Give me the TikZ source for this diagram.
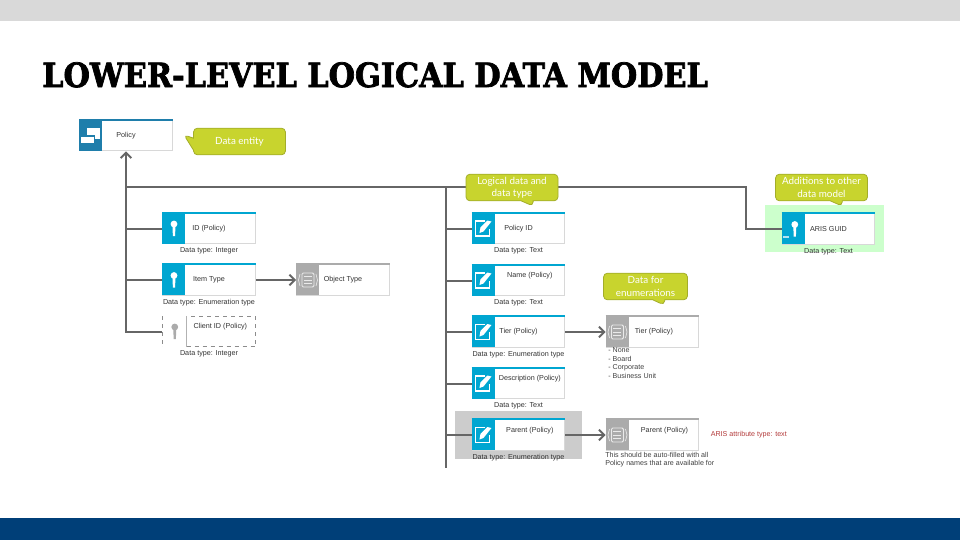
\documentclass[tikz,border=0pt]{standalone}
\usepackage{xcolor}
\usepackage{graphicx}
\usepackage{fontspec}
\setmainfont{Liberation Sans}
\newfontfamily\titlefont[BoldFont={DejaVu Serif Bold},BoldFeatures={FakeBold=2.2}]{DejaVu Serif}
\newfontfamily\calloutfont{Lato}
\definecolor{slidegray}{HTML}{D9D9D9}
\definecolor{slideblue}{HTML}{003F78}
\definecolor{entityblue}{HTML}{1F7EAB}
\definecolor{attrblue}{HTML}{00A6D1}
\definecolor{enumgray}{HTML}{ABABAB}
\definecolor{boxedge}{HTML}{D8D8D8}
\definecolor{linkgray}{HTML}{666666}
\definecolor{calloutgreen}{HTML}{C8D42E}
\definecolor{calloutedge}{HTML}{A3AD2A}
\definecolor{notered}{HTML}{B23A3A}
\usetikzlibrary{positioning,arrows.meta,shapes.callouts}
\tikzset{
  >={Straight Barb[length=4pt,width=8pt]},
  bodybox/.style={draw=boxedge, fill=white, line width=0.7pt, minimum width=69.5pt, minimum height=23pt, inner sep=0pt},
  bandbox/.style={fill=#1, minimum width=17.25pt, minimum height=23pt, inner sep=0pt},
  topline/.style={draw=#1, line width=1.4pt},
  boxtext/.style={font=\fontsize{5.4}{6.5}\selectfont, text=black!80, inner sep=0pt},
  captext/.style={font=\fontsize{5.4}{6.5}\selectfont, text=black!80, inner sep=0pt, below=2.6pt},
  link/.style={draw=linkgray, line width=1.5pt},
  notetext/.style={font=\fontsize{5.35}{6.4}\selectfont, text=black!75, inner sep=0pt, align=left},
  tipnote/.style={rectangle callout, fill=calloutgreen, draw=calloutedge, line width=0.6pt, rounded corners=3pt,
    callout pointer width=9pt, text=white, font=\calloutfont\fontsize{7.4}{9.2}\selectfont, align=center, inner sep=0pt,
    minimum height=20pt},
  keyicon/.pic={
    \fill[#1] (0,-4.5) circle (3.4);
    \fill[#1] (-1.5,-3) -- (1.5,-3) -- (1.1,7.5) -- (-1.1,7.5) -- cycle;
  },
  penicon/.pic={
    \draw[white, line width=0.9pt] (2,-7.5) -- (-8,-7.5) -- (-8,7.5) -- (6,7.5) -- (6,0);
    \fill[white] (-4,4.5) -- (-3,-1) -- (4,-8) -- (8,-7) -- (0,3) -- cycle;
  },
  enumicon/.pic={
    \draw[white!75!enumgray, line width=0.7pt, rounded corners=1pt] (-6,-7) rectangle (6,7);
    \foreach \yy in {-3.5,0,3.5} \draw[white!75!enumgray, line width=0.7pt] (-4,\yy) -- (4,\yy);
    \draw[white!75!enumgray, line width=0.5pt] (-8,-6) -- (-9.5,0) -- (-8,6) (8,-6) -- (9.5,0) -- (8,6);
  },
  entityicon/.pic={
    \draw[white, line width=1pt] (-3,-1) -- (-3,-7) -- (8,-7) -- (8,3) -- (4,3);
    \fill[white] (-3,-6.5) rectangle (7.5,2.5);
    \fill[white] (-9.5,1) rectangle (3,7);
    \draw[entityblue, line width=0.8pt] (-9.5,0.5) -- (3.5,0.5) -- (3.5,7);
  },
}
\begin{document}
\begin{tikzpicture}[x=0.75pt,y=-0.75pt]
  \useasboundingbox (0,0) rectangle (960,540);

  % slide
  \fill[slidegray] (0,0) rectangle (960,21);
  \fill[slideblue] (0,518) rectangle (960,540);
  \node[anchor=base west, inner sep=0pt, font=\titlefont\bfseries\fontsize{25}{28}\selectfont] (slidetitle) at (42,87) {\scalebox{0.908}[1]{LOWER-LEVEL LOGICAL DATA MODEL}};

  % backdrops
  \fill[black!20] (455,411) rectangle (582,459);
  \fill[green!20] (765,205) rectangle (884,252);

  % entity
  \node[bodybox] (policy) at (126,135.5) {};
  \node[bandbox=entityblue, anchor=west] (policy-band) at (policy.west) {};
  \draw[topline=entityblue] (policy.north west) -- (policy.north east);
  \pic at (policy-band) {entityicon};
  \node[boxtext] (policy-text) at (policy) {Policy};

  % keys on the left
  \foreach \nm/\yy/\lbl/\capt in {
    id/228.5/{ID (Policy)}/{Data type: Integer},
    itemtype/280/{Item Type}/{Data type: Enumeration type}
  }{
    \node[bodybox] (\nm) at (209,\yy) {};
    \node[bandbox=attrblue, anchor=west] (\nm-band) at (\nm.west) {};
    \draw[topline=attrblue] (\nm.north west) -- (\nm.north east);
    \pic at (\nm-band) {keyicon=white};
    \node[boxtext] (\nm-text) at (\nm) {\lbl};
    \node[captext] (\nm-cap) at (\nm.south) {\capt};
  }
  \node[bodybox, draw=black!45, dashed] (clientid) at (209,331.5) {};
  \node[bandbox=white, anchor=west] (clientid-band) at ([xshift=0.6pt]clientid.west) {};
  \draw[draw=black!30, line width=0.6pt] (clientid-band.north east) -- (clientid-band.south east);
  \pic at (clientid-band) {keyicon=enumgray};
  \node[boxtext, xshift=8.5pt, yshift=3.5pt] (clientid-text) at (clientid) {Client ID (Policy)};
  \node[captext] (clientid-cap) at (clientid.south) {Data type: Integer};

  % attributes on the right
  \foreach \nm/\yy/\lbl/\dx/\dy/\capt in {
    policyid/228.5/{Policy ID}/0/0/{Data type: Text},
    name/280.5/{Name (Policy)}/8.5/3.5/{Data type: Text},
    tier/332/{Tier (Policy)}/0/0/{Data type: Enumeration type},
    description/383.5/{Description (Policy)}/8.5/3.5/{Data type: Text},
    parent/435/{Parent (Policy)}/8.5/3/{Data type: Enumeration type}
  }{
    \node[bodybox] (\nm) at (518.5,\yy) {};
    \node[bandbox=attrblue, anchor=west] (\nm-band) at (\nm.west) {};
    \draw[topline=attrblue] (\nm.north west) -- (\nm.north east);
    \pic at (\nm-band) {penicon};
    \node[boxtext, xshift=\dx pt, yshift=\dy pt] (\nm-text) at (\nm) {\lbl};
    \node[captext] (\nm-cap) at (\nm.south) {\capt};
  }

  % enumerations
  \foreach \nm/\xx/\yy/\lbl/\dx/\dy in {
    objecttype/343/280/{Object Type}/0/0,
    tierenum/652.5/332/{Tier (Policy)}/1/0,
    parentenum/652.5/435/{Parent (Policy)}/9/3
  }{
    \node[bodybox] (\nm) at (\xx,\yy) {};
    \node[bandbox=enumgray, anchor=west] (\nm-band) at (\nm.west) {};
    \draw[topline=enumgray] (\nm.north west) -- (\nm.north east);
    \pic at (\nm-band) {enumicon};
    \node[boxtext, xshift=\dx pt, yshift=\dy pt] (\nm-text) at (\nm) {\lbl};
  }
  \node[notetext, anchor=north west] (tierlist) at (608,347.5) {- None\\- Board\\- Corporate\\- Business Unit};
  \node[notetext, anchor=north west] (parentnote) at (605,452) {This should be auto-filled with all\\Policy names that are available for};
  \node[notetext, anchor=west, text=notered] (attrnote) at (710.5,435) {ARIS attribute type: text};

  % addition
  \node[bodybox] (arisguid) at (828.5,229) {};
  \node[bandbox=attrblue, anchor=west] (arisguid-band) at (arisguid.west) {};
  \draw[topline=attrblue] (arisguid.north west) -- (arisguid.north east);
  \pic at ([xshift=1pt]arisguid-band.center) {keyicon=white};
  \fill[white!70!attrblue] ([xshift=-7.5pt,yshift=-7pt]arisguid-band.center) rectangle ([xshift=-3pt,yshift=-5pt]arisguid-band.center);
  \node[boxtext] (arisguid-text) at (arisguid) {ARIS GUID};
  \node[captext] (arisguid-cap) at (arisguid.south) {Data type: Text};

  % connectors
  \coordinate (bend) at (policy.south |- 0,186.5);
  \coordinate (elbow) at (746,186.5);
  \coordinate (righttop) at (446,186.5);
  \coordinate (rightfoot) at (446,468);
  \draw[link, ->] (clientid.west) -| (policy.south);
  \draw[link] (bend) -- (elbow) |- (arisguid.west);
  \draw[link] (righttop) -- (rightfoot);
  \foreach \nm in {id,itemtype}
    \draw[link] (\nm.west) -- (\nm.west -| bend);
  \foreach \nm in {policyid,name,tier,description,parent}
    \draw[link] (\nm.west) -- (\nm.west -| rightfoot);
  \draw[link, ->] (itemtype.east) -- (objecttype.west);
  \draw[link, ->] (tier.east) -- (tierenum.west);
  \draw[link, ->] (parent.east) -- (parentenum.west);

  % callouts
  \node[tipnote, minimum width=69pt, callout absolute pointer={(184,135)}] (entitynote) at (239.5,141.5) {Data entity};
  \node[tipnote, minimum width=69pt, callout absolute pointer={(533,206)}] (logicalnote) at (512,187.5) {Logical data and\\data type};
  \node[tipnote, minimum width=63pt, callout absolute pointer={(664,305)}] (enumnote) at (645.5,286.5) {Data for\\enumerations};
  \node[tipnote, minimum width=69pt, callout absolute pointer={(842,206)}] (additionnote) at (821.5,187.5) {Additions to other\\data model};
\end{tikzpicture}
\end{document}
